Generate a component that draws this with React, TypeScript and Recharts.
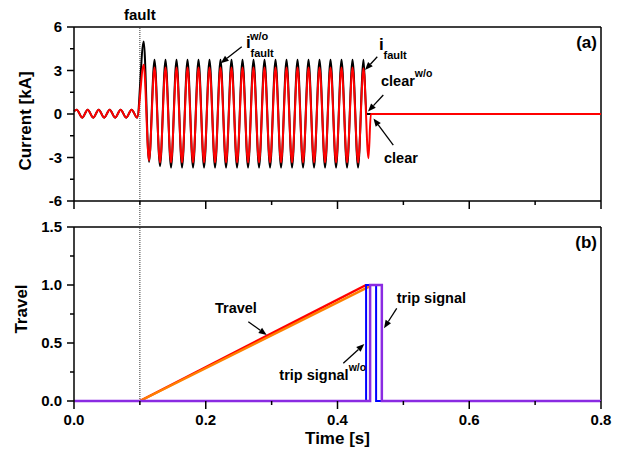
import { LineChart, Line, XAxis, YAxis, ReferenceLine, ReferenceDot } from "recharts";

const FONT = "'Liberation Sans', Arial, Helvetica, sans-serif";

// axes
const timeTicks = [0, 0.1, 0.2, 0.3, 0.4, 0.5, 0.6, 0.7, 0.8];
const currentTicks = [-6, -4.5, -3, -1.5, 0, 1.5, 3, 4.5, 6];
const travelTicks = [0, 0.25, 0.5, 0.75, 1, 1.25, 1.5];
const faultTime = 0.1;

// panel (a): current before the fault (shared by both traces)
const preFaultTimes = [0, 0.0041, 0.0125, 0.0208, 0.0292, 0.0375, 0.0458, 0.0542, 0.0625, 0.0708, 0.0792, 0.0875, 0.0958];
const preFaultCurrent = [0.2, 0.3, -0.26, 0.3, -0.26, 0.3, -0.26, 0.3, -0.26, 0.3, -0.26, 0.3, -0.26];

// fault current peaks / troughs [kA]
const faultTimes = [
  0.1058, 0.1139, 0.1222, 0.1306, 0.1389, 0.1473, 0.1556, 0.164, 0.1723, 0.1807,
  0.189, 0.1974, 0.2057, 0.2141, 0.2224, 0.2308, 0.2391, 0.2475, 0.2558, 0.2642,
  0.2725, 0.2809, 0.2892, 0.2976, 0.3059, 0.3143, 0.3226, 0.331, 0.3393, 0.3477,
  0.356, 0.3644, 0.3727, 0.3811, 0.3894, 0.3978, 0.4061, 0.4145, 0.4228, 0.4312,
  0.4395,
];
const currentWithout = [
  5.0, -3.3, 3.75, -3.6, 3.75, -3.7, 3.75, -3.7, 3.75, -3.7,
  3.75, -3.7, 3.75, -3.7, 3.75, -3.7, 3.75, -3.7, 3.75, -3.7,
  3.75, -3.7, 3.75, -3.7, 3.75, -3.7, 3.75, -3.7, 3.75, -3.7,
  3.75, -3.7, 3.75, -3.7, 3.75, -3.7, 3.75, -3.7, 3.75, -3.7,
  3.75,
];
const currentWith = [
  3.4, -3.2, 3.2, -3.35, 3.2, -3.35, 3.2, -3.35, 3.2, -3.35,
  3.2, -3.35, 3.2, -3.35, 3.2, -3.35, 3.2, -3.35, 3.2, -3.35,
  3.2, -3.35, 3.2, -3.35, 3.2, -3.35, 3.2, -3.35, 3.2, -3.35,
  3.2, -3.35, 3.2, -3.35, 3.2, -3.35, 3.2, -3.35, 3.2, -3.35,
  3.15,
];
const clearTimesWithout = [0.444, 0.8];
const clearCurrentWithout = [0, 0];
const clearTimesWith = [0.447, 0.4506, 0.8];
const clearCurrentWith = [-3.05, 0, 0];

// panel (b): contact travel and trip signals
const travelTimesWithout = [0.1, 0.4434];
const travelWithout = [0, 1];
const travelTimesWith = [0.1, 0.4495];
const travelWith = [0, 0.99];
const tripTimesWithout = [0, 0.4434, 0.4434, 0.4586, 0.4586, 0.8];
const tripWithout = [0, 0, 1, 1, 0, 0];
const tripTimesWith = [0, 0.4495, 0.4495, 0.4673, 0.4673, 0.8];
const tripWith = [0, 0, 1, 1, 0, 0];

const toRows = (times: number[], values: number[]) => times.map((t, i) => ({ t, v: values[i] }));

const blackRows = [
  ...toRows(preFaultTimes, preFaultCurrent),
  ...toRows(faultTimes, currentWithout),
  ...toRows(clearTimesWithout, clearCurrentWithout),
];
const redRows = [
  ...toRows(preFaultTimes, preFaultCurrent),
  ...toRows(faultTimes, currentWith),
  ...toRows(clearTimesWith, clearCurrentWith),
];

const axisLine = { stroke: "#000", strokeWidth: 1.5 };
const bold = { fontFamily: FONT, fontWeight: "bold" as const, fill: "#000" };

const isMultiple = (v: number, step: number) => Math.abs(v / step - Math.round(v / step)) < 1e-6;

const makeYTick = (step: number, fmt: (v: number) => string) => (props: any) => {
  const { x, y, payload } = props;
  const major = isMultiple(payload.value, step);
  return (
    <g>
      <line x1={x - (major ? 7 : 4)} x2={x} y1={y} y2={y} stroke="#000" strokeWidth={1.5} />
      {major && (
        <text x={x - 12} y={y} dy={5.4} textAnchor="end" fontSize={15} {...bold}>
          {fmt(payload.value)}
        </text>
      )}
    </g>
  );
};

const makeXTick = (showLabel: boolean) => (props: any) => {
  const { x, y, payload } = props;
  const major = isMultiple(payload.value, 0.2);
  return (
    <g>
      <line x1={x} x2={x} y1={y} y2={y + (major ? 8 : 4)} stroke="#000" strokeWidth={1.5} />
      {showLabel && major && (
        <text x={x} y={y + 24} textAnchor="middle" fontSize={15} {...bold}>
          {payload.value.toFixed(1)}
        </text>
      )}
    </g>
  );
};

const yTitle = (text: string, dx: number, dy: number) => (props: any) => {
  const vb = props.viewBox;
  const cx = vb.x + dx;
  const cy = vb.y + vb.height / 2 + dy;
  return (
    <text x={cx} y={cy} transform={`rotate(-90, ${cx}, ${cy})`} textAnchor="middle" dy={6} fontSize={17} {...bold}>
      {text}
    </text>
  );
};

const Arrow = (p: any) => {
  const { x1, y1, x2, y2 } = p;
  const a = Math.atan2(y2 - y1, x2 - x1);
  const L = 8;
  const W = 3.2;
  const bx = x2 - L * Math.cos(a);
  const by = y2 - L * Math.sin(a);
  const pts = `${x2},${y2} ${bx + W * Math.sin(a)},${by - W * Math.cos(a)} ${bx - W * Math.sin(a)},${by + W * Math.cos(a)}`;
  return (
    <g>
      <line x1={x1} y1={y1} x2={bx} y2={by} stroke="#000" strokeWidth={1.3} />
      <polygon points={pts} fill="#000" />
    </g>
  );
};

const IFault = ({ cx, cy, sup }: { cx: number; cy: number; sup?: string }) => (
  <g>
    <text x={cx} y={cy} fontSize={17} {...bold}>i</text>
    {sup && (
      <text x={cx + 4} y={cy - 8.5} fontSize={11} {...bold}>{sup}</text>
    )}
    <text x={cx + 4.5} y={cy + 8.5} fontSize={11} {...bold}>fault</text>
  </g>
);

const Note = ({ cx, cy, text, sup, anchor = "start", size = 14.5 }: any) => (
  <text x={cx} y={cy} textAnchor={anchor} fontSize={size} {...bold}>
    {text}
    {sup && (
      <tspan dy={-9} fontSize={10.5}>{sup}</tspan>
    )}
  </text>
);

export default function App() {
  return (
    <div style={{ position: "absolute", left: 0, top: 0, width: 625, height: 459, background: "#fff", fontFamily: FONT }}>
      <div style={{ position: "absolute", left: 0, top: 0 }}>
        <LineChart width={625} height={215} margin={{ top: 27, right: 24, bottom: 0, left: 0 }}>
          <XAxis
            dataKey="t"
            type="number"
            domain={[0, 0.8]}
            ticks={timeTicks}
            interval={0}
            height={14}
            axisLine={axisLine}
            tickLine={false}
            tickSize={0}
            tickMargin={0}
            tick={makeXTick(false)}
          />
          <YAxis
            type="number"
            domain={[-6, 6]}
            ticks={currentTicks}
            interval={0}
            width={74}
            axisLine={axisLine}
            tickLine={false}
            tickSize={0}
            tickMargin={0}
            tick={makeYTick(3, (v) => String(v))}
            label={yTitle("Current [kA]", 25, 7)}
          />
          <ReferenceLine y={6} stroke="#000" strokeWidth={1.5} />
          <ReferenceLine x={0.8} stroke="#000" strokeWidth={1.5} />
          <ReferenceLine
            x={faultTime}
            stroke="#333"
            strokeWidth={1}
            strokeDasharray="1 1"
            label={{ value: "fault", position: "top", offset: 7, fontSize: 15, ...bold }}
          />
          <Line data={blackRows} dataKey="v" type="monotone" stroke="#000" strokeWidth={2} dot={false} activeDot={false} isAnimationActive={false} />
          <Line data={redRows} dataKey="v" type="monotone" stroke="#ff0000" strokeWidth={2} dot={false} activeDot={false} isAnimationActive={false} />
          <ReferenceLine segment={[{ x: 0.2546, y: 4.64 }, { x: 0.2227, y: 3.5 }]} ifOverflow="visible" shape={Arrow} />
          <ReferenceLine segment={[{ x: 0.4604, y: 3.95 }, { x: 0.4417, y: 3.03 }]} ifOverflow="visible" shape={Arrow} />
          <ReferenceLine segment={[{ x: 0.4695, y: 1.31 }, { x: 0.4463, y: 0.17 }]} ifOverflow="visible" shape={Arrow} />
          <ReferenceLine segment={[{ x: 0.4847, y: -2.14 }, { x: 0.4546, y: -0.31 }]} ifOverflow="visible" shape={Arrow} />
          <ReferenceDot x={0.2611} y={4.55} r={0} ifOverflow="visible" shape={(p: any) => <IFault cx={p.cx} cy={p.cy} sup="w/o" />} />
          <ReferenceDot x={0.463} y={4.41} r={0} ifOverflow="visible" shape={(p: any) => <IFault cx={p.cx} cy={p.cy} />} />
          <ReferenceDot x={0.466} y={1.93} r={0} ifOverflow="visible" shape={(p: any) => <Note cx={p.cx} cy={p.cy} text="clear" sup="w/o" />} />
          <ReferenceDot x={0.4706} y={-3.38} r={0} ifOverflow="visible" shape={(p: any) => <Note cx={p.cx} cy={p.cy} text="clear" />} />
          <ReferenceDot x={0.7939} y={4.55} r={0} ifOverflow="visible" shape={(p: any) => <Note cx={p.cx} cy={p.cy} text="(a)" anchor="end" size={17} />} />
        </LineChart>
      </div>
      <div style={{ position: "absolute", left: 0, top: 0 }}>
        <LineChart width={625} height={459} margin={{ top: 227, right: 24, bottom: 0, left: 0 }}>
          <XAxis
            dataKey="t"
            type="number"
            domain={[0, 0.8]}
            ticks={timeTicks}
            interval={0}
            height={58}
            axisLine={false}
            tickLine={false}
            tickSize={0}
            tickMargin={0}
            tick={makeXTick(true)}
            label={(props: any) => {
              const vb = props.viewBox;
              return (
                <text x={vb.x + vb.width / 2} y={vb.y + 43} textAnchor="middle" fontSize={17} {...bold}>
                  Time [s]
                </text>
              );
            }}
          />
          <YAxis
            type="number"
            domain={[0, 1.5]}
            ticks={travelTicks}
            interval={0}
            width={74}
            axisLine={axisLine}
            tickLine={false}
            tickSize={0}
            tickMargin={0}
            tick={makeYTick(0.5, (v) => v.toFixed(1))}
            label={yTitle("Travel", 21, -5)}
          />
          <ReferenceLine y={1.5} stroke="#000" strokeWidth={1.5} />
          <ReferenceLine x={0.8} stroke="#000" strokeWidth={1.5} />
          <ReferenceLine
            segment={[{ x: faultTime, y: 0 }, { x: faultTime, y: 1.73 }]}
            ifOverflow="visible"
            stroke="#333"
            strokeWidth={1}
            strokeDasharray="1 1"
          />
          <Line data={toRows(travelTimesWithout, travelWithout)} dataKey="v" type="linear" stroke="#ff0000" strokeWidth={2.5} dot={false} activeDot={false} isAnimationActive={false} />
          <Line data={toRows(travelTimesWith, travelWith)} dataKey="v" type="linear" stroke="#ff8000" strokeWidth={2.5} dot={false} activeDot={false} isAnimationActive={false} />
          <Line data={toRows(tripTimesWithout, tripWithout)} dataKey="v" type="linear" stroke="#0000ff" strokeWidth={2} dot={false} activeDot={false} isAnimationActive={false} />
          <Line data={toRows(tripTimesWith, tripWith)} dataKey="v" type="linear" stroke="#8a2be2" strokeWidth={2.5} dot={false} activeDot={false} isAnimationActive={false} />
          <ReferenceLine segment={[{ x: 0.2646, y: 0.684 }, { x: 0.2925, y: 0.569 }]} ifOverflow="visible" shape={Arrow} />
          <ReferenceLine segment={[{ x: 0.4899, y: 0.799 }, { x: 0.4706, y: 0.627 }]} ifOverflow="visible" shape={Arrow} />
          <ReferenceLine segment={[{ x: 0.4088, y: 0.325 }, { x: 0.4407, y: 0.491 }]} ifOverflow="visible" shape={Arrow} />
          <ReferenceDot x={0.214} y={0.759} r={0} ifOverflow="visible" shape={(p: any) => <Note cx={p.cx} cy={p.cy} text="Travel" />} />
          <ReferenceDot x={0.4899} y={0.845} r={0} ifOverflow="visible" shape={(p: any) => <Note cx={p.cx} cy={p.cy} text="trip signal" />} />
          <ReferenceDot x={0.3117} y={0.181} r={0} ifOverflow="visible" shape={(p: any) => <Note cx={p.cx} cy={p.cy} text="trip signal" sup="w/o" />} />
          <ReferenceDot x={0.7939} y={1.319} r={0} ifOverflow="visible" shape={(p: any) => <Note cx={p.cx} cy={p.cy} text="(b)" anchor="end" size={17} />} />
        </LineChart>
      </div>
    </div>
  );
}
